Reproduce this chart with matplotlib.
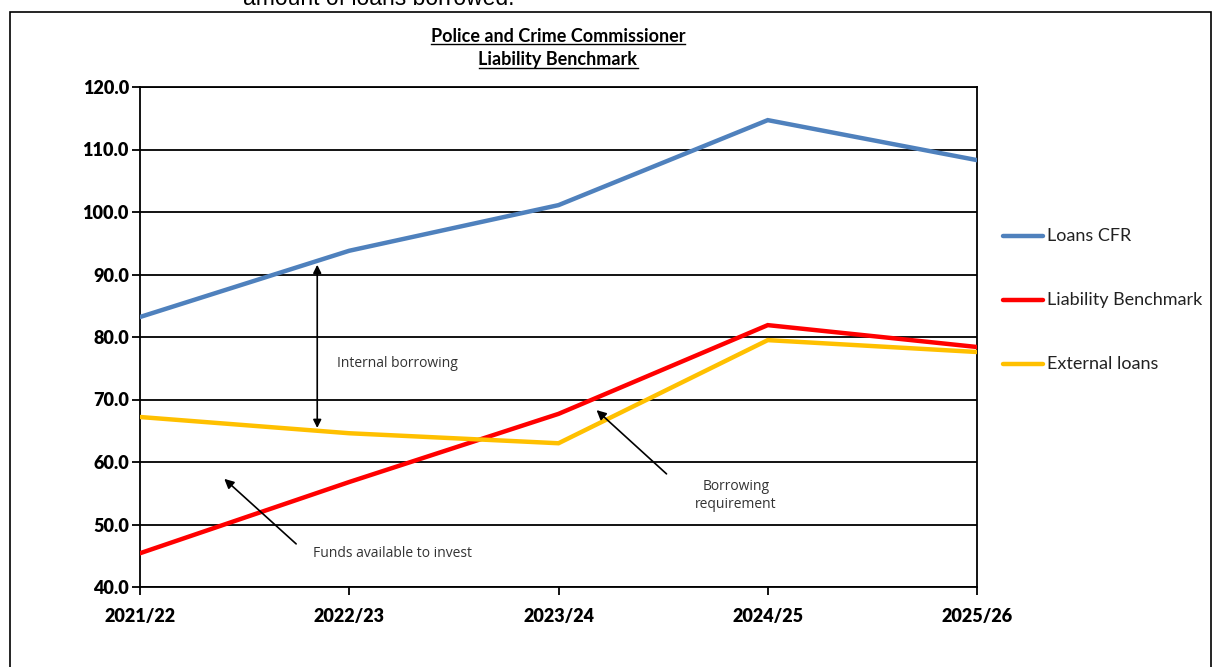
import matplotlib
matplotlib.use("Agg")
import matplotlib.pyplot as plt
from matplotlib.patches import Rectangle
from matplotlib.lines import Line2D

years = ["2021/22", "2022/23", "2023/24", "2024/25", "2025/26"]
loans_cfr = [83.2, 93.8, 101.1, 114.7, 108.3]
liability_benchmark = [45.4, 56.8, 67.7, 81.9, 78.4]
external_loans = [67.2, 64.6, 63.0, 79.5, 77.6]
series_names = ["Loans CFR", "Liability Benchmark", "External loans"]
colors = ["#4F81BD", "#FF0000", "#FFC000"]
yticks = [40, 50, 60, 70, 80, 90, 100, 110, 120]

W, H = 1213, 667
fig = plt.figure(figsize=(W / 100, H / 100), dpi=100)
fig.patch.set_facecolor("white")

def fx(px):
    return px / W

def fy(py):
    return 1 - py / H

# outer frame
fig.add_artist(Rectangle((fx(10), fy(700)), fx(1211) - fx(10), fy(12) - fy(700),
                         transform=fig.transFigure, fill=False, edgecolor="black", lw=1.2))

# cropped text at top (cut off in the reference too)
fig.text(fx(243), fy(5), "amount of loans borrowed.", fontsize=16.5, family="Liberation Sans",
         ha="left", va="baseline", color="black")

ax = fig.add_axes([fx(140), fy(587), fx(977) - fx(140), fy(87) - fy(587)])
x = list(range(len(years)))
for vals, c in zip([loans_cfr, liability_benchmark, external_loans], colors):
    ax.plot(x, vals, color=c, lw=3.2, solid_joinstyle="miter", zorder=3)

ax.set_xlim(0, len(years) - 1)
ax.set_ylim(40, 120)
ax.set_yticks(yticks)
ax.set_yticklabels([f"{v:.1f}" for v in yticks], fontsize=13, fontweight="heavy", family="Lato")
ax.set_xticks(x)
ax.set_xticklabels(years, fontsize=13, fontweight="heavy", family="Lato")
ax.tick_params(axis="both", direction="out", length=6, width=1.3, color="black")
ax.tick_params(axis="y", pad=2)
ax.tick_params(axis="x", pad=9)
ax.yaxis.grid(True, color="black", lw=1.3, zorder=1)
ax.set_axisbelow(True)
for s in ax.spines.values():
    s.set_color("black")
    s.set_linewidth(1.3)

# annotations
ax.annotate("", xy=(0.847, 92.0), xytext=(0.847, 65.0),
            arrowprops=dict(arrowstyle="<|-|>", color="black", lw=1.2, mutation_scale=12))
ax.text(0.943, 75.8, "Internal borrowing", fontsize=10, family="Open Sans", color="#333333",
        ha="left", va="center")
ax.annotate("", xy=(0.393, 57.6), xytext=(0.756, 46.6),
            arrowprops=dict(arrowstyle="-|>", color="black", lw=1.2, mutation_scale=14))
ax.text(0.828, 45.3, "Funds available to invest", fontsize=10, family="Open Sans", color="#333333",
        ha="left", va="center")
ax.annotate("", xy=(2.172, 68.6), xytext=(2.526, 57.8),
            arrowprops=dict(arrowstyle="-|>", color="black", lw=1.2, mutation_scale=14))
ax.text(2.847, 54.6, "Borrowing\nrequirement", fontsize=10, family="Open Sans", color="#333333",
        ha="center", va="center", linespacing=1.3)

# title with underline
title_lines = ["Police and Crime Commissioner", "Liability Benchmark"]
title_y = [36, 60]
title_texts = []
for t, py in zip(title_lines, title_y):
    title_texts.append(fig.text(fx(558), fy(py), t, fontsize=13, fontweight="bold", family="Lato",
                                ha="center", va="center"))

# legend
leg_y = [236, 300, 364]
for name, c, py in zip(series_names, colors, leg_y):
    fig.add_artist(Line2D([fx(1003), fx(1043)], [fy(py), fy(py)], transform=fig.transFigure,
                          color=c, lw=3.2, solid_capstyle="round"))
    fig.text(fx(1047), fy(py), name, fontsize=13, family="Lato", color="#222222",
             ha="left", va="center")

fig.canvas.draw()
r = fig.canvas.get_renderer()
for tt in title_texts:
    bb = tt.get_window_extent(r)
    yline = bb.y0 + 1
    fig.add_artist(Line2D([bb.x0 / W, bb.x1 / W], [yline / H, yline / H],
                          transform=fig.transFigure, color="black", lw=1.0))

fig.savefig("out.png", dpi=100, facecolor="white")
